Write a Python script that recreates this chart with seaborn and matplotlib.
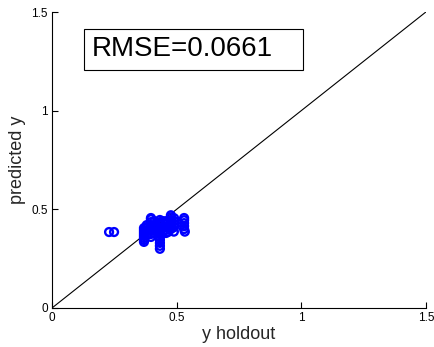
import matplotlib
matplotlib.use("Agg")
import matplotlib.pyplot as plt
from matplotlib.patches import Rectangle
import seaborn as sns
import pandas as pd

# Observed holdout targets and the model's predictions for them
y_holdout = (
    [0.229, 0.249]
    + [0.369] * 8
    + [0.380] * 4
    + [0.397] * 8
    + [0.410] * 4
    + [0.433] * 11
    + [0.445] * 4
    + [0.457] * 5
    + [0.477] * 6
    + [0.490] * 4
    + [0.530] * 5
    + [0.465, 0.489, 0.533]
)
y_predicted = (
    [0.385, 0.385]
    + [0.335, 0.345, 0.355, 0.365, 0.375, 0.385, 0.395, 0.405]
    + [0.370, 0.390, 0.410, 0.420]
    + [0.360, 0.375, 0.390, 0.405, 0.420, 0.435, 0.450, 0.456]
    + [0.380, 0.400, 0.420, 0.440]
    + [0.300, 0.315, 0.330, 0.345, 0.360, 0.375, 0.390, 0.405, 0.420, 0.435, 0.446]
    + [0.390, 0.410, 0.430, 0.440]
    + [0.380, 0.395, 0.410, 0.425, 0.440]
    + [0.400, 0.415, 0.430, 0.445, 0.460, 0.470]
    + [0.410, 0.425, 0.440, 0.455]
    + [0.400, 0.415, 0.430, 0.445, 0.456]
    + [0.385, 0.387, 0.387]
)
rmse_text = "RMSE=0.0661"
ticks = [0, 0.5, 1, 1.5]
tick_labels = ["0", "0.5", "1", "1.5"]

df = pd.DataFrame({"y holdout": y_holdout, "predicted y": y_predicted})

sns.set_style("white")
plt.rcParams["font.family"] = ["Liberation Sans", "DejaVu Sans"]

fig = plt.figure(figsize=(4.35, 3.47), dpi=100)
ax = fig.add_axes([0.1195, 0.1124, 0.8595, 0.853])

# identity line
ax.plot([0, 1.5], [0, 1.5], color="black", linewidth=0.8, zorder=1)

sns.scatterplot(
    data=df, x="y holdout", y="predicted y", ax=ax,
    marker="o", s=32, fc="none", ec=(0, 0, 1), linewidth=1.7, zorder=2,
)

ax.set_xlim(0, 1.5)
ax.set_ylim(0, 1.5)
ax.set_xticks(ticks)
ax.set_xticklabels(tick_labels)
ax.set_yticks(ticks)
ax.set_yticklabels(tick_labels)
ax.tick_params(direction="in", length=4, width=0.8, labelsize=8.5,
               bottom=True, left=True, colors="black", pad=3)
for side in ("top", "right"):
    ax.spines[side].set_visible(False)
for side in ("left", "bottom"):
    ax.spines[side].set_color("black")
    ax.spines[side].set_linewidth(0.8)

ax.set_xlabel("y holdout", fontsize=13, labelpad=1)
ax.set_ylabel("predicted y", fontsize=13, labelpad=4)

# annotation box with the error score
ax.add_patch(Rectangle((0.128, 1.206), 0.879, 0.208, fill=True, fc="white",
                       ec="black", lw=0.8, zorder=3))
ax.text(0.16, 1.31, rmse_text, fontsize=20, color="black",
        ha="left", va="center", zorder=4)

fig.savefig("out.png", dpi=100)
